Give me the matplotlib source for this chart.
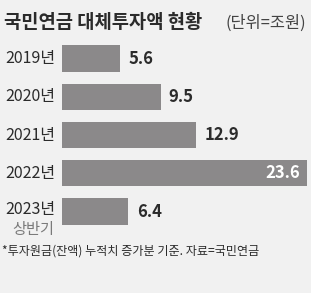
import matplotlib
matplotlib.use("Agg")
import matplotlib.pyplot as plt
import matplotlib.transforms as mtransforms

plt.rcParams['font.family'] = ['Noto Sans CJK KR', 'DejaVu Sans']

years = ["2019년", "2020년", "2021년", "2022년", "2023년"]
sublabels = ["", "", "", "", "상반기"]
values = [5.6, 9.5, 12.9, 23.6, 6.4]
value_labels = ["5.6", "9.5", "12.9", "23.6", "6.4"]
title = "국민연금 대체투자액 현황"
unit = "(단위=조원)"
footnote = "*투자원금(잔액) 누적치 증가분 기준. 자료=국민연금"

W, H = 311, 293
bg = "#f1f1f1"
bar_color = "#8b898a"
text_color = "#2b2b2b"

fig = plt.figure(figsize=(W / 100, H / 100), dpi=100, facecolor=bg)

def fx(px):
    return px / W

def fy(py):
    return 1 - py / H

top_px, bot_px = 40, 230
ax = fig.add_axes([fx(62), fy(bot_px), fx(W) - fx(62), fy(top_px) - fy(bot_px)])
ax.set_facecolor(bg)
ypos = list(range(len(values)))
ax.barh(ypos, values, height=0.68, color=bar_color)
ax.set_xlim(0, 24.0)
ax.set_ylim((bot_px - 58.5) / 38.25, (top_px - 58.5) / 38.25)
ax.axis("off")

trans_lab = mtransforms.blended_transform_factory(fig.transFigure, ax.transData)
for i, (y, s, v, vl) in enumerate(zip(years, sublabels, values, value_labels)):
    if s:
        ax.text(fx(55), i - 0.06, y, transform=trans_lab, ha="right", va="center",
                fontsize=11.5, color=text_color)
        ax.text(fx(54), i + 0.46, s, transform=trans_lab, ha="right", va="center",
                fontsize=11, color="#7a7a7a")
    else:
        ax.text(fx(55), i, y, transform=trans_lab, ha="right", va="center",
                fontsize=11.5, color=text_color)
    if v > 20:
        ax.text(v - 0.6, i, vl, ha="right", va="center", fontsize=12,
                fontweight="bold", color="white")
    else:
        ax.text(v + 0.8, i, vl, ha="left", va="center", fontsize=12,
                fontweight="bold", color=text_color)

fig.text(fx(4), fy(23), title, ha="left", va="center", fontsize=13.5,
         fontweight="bold", color=text_color)
fig.text(fx(306), fy(23), unit, ha="right", va="center", fontsize=11.8,
         color="#444444")
fig.text(fx(2), fy(251), footnote, ha="left", va="center", fontsize=8.7,
         color=text_color)

fig.savefig("out.png", dpi=100, facecolor=bg)
